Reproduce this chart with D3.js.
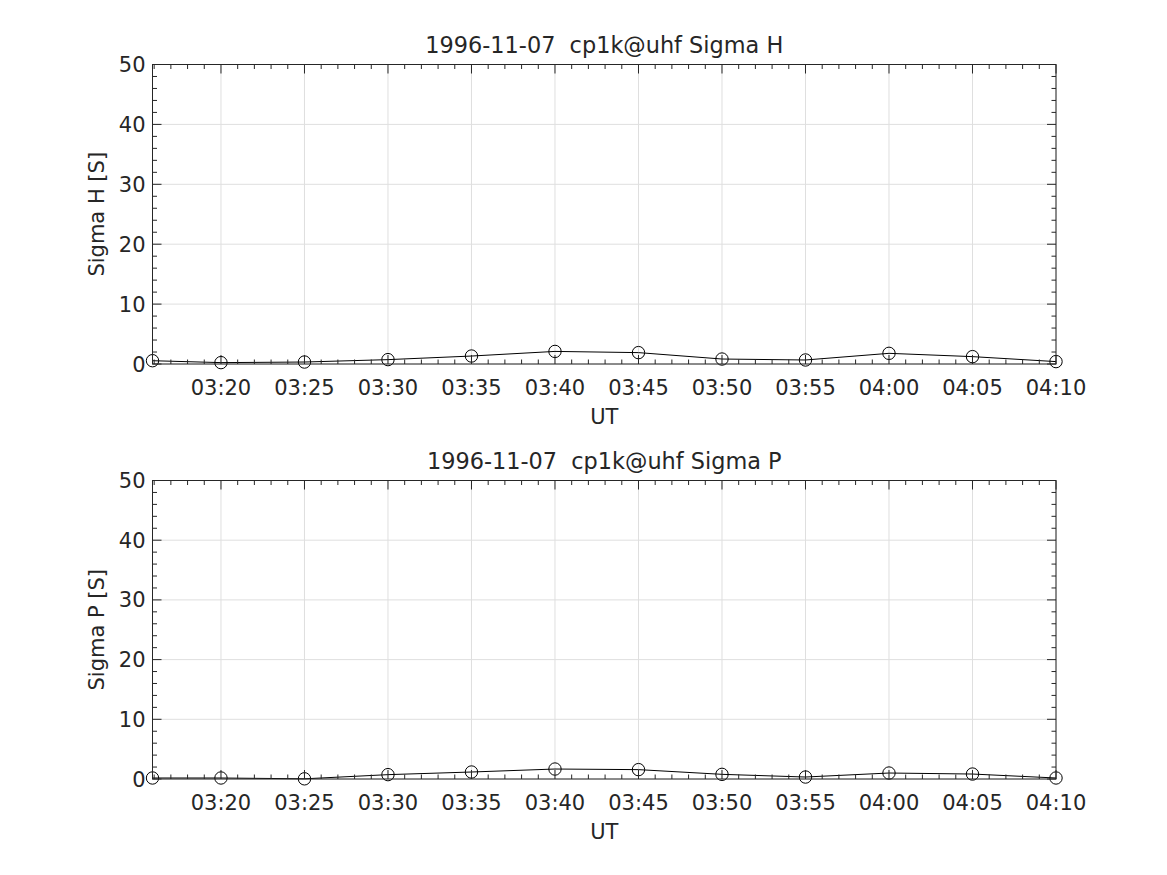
<!DOCTYPE html>
<html><head><meta charset="utf-8">
<script src="https://cdn.jsdelivr.net/npm/d3@7"></script>
<style>body{margin:0;background:#fff}svg{display:block}text{font-family:"DejaVu Sans",sans-serif;fill:#262626;white-space:pre}</style>
</head><body>
<script>
const times = ["03:15:54","03:20:00","03:25:00","03:30:00","03:35:00","03:40:00","03:45:00","03:50:00","03:55:00","04:00:00","04:05:00","04:10:00"];
const sigmaH = [0.55,0.23,0.33,0.73,1.33,2.1,1.9,0.83,0.67,1.78,1.23,0.4];
const sigmaP = [0.17,0.17,0.03,0.73,1.17,1.67,1.57,0.78,0.33,1.0,0.83,0.17];
const titles = ["1996-11-07  cp1k@uhf Sigma H","1996-11-07  cp1k@uhf Sigma P"];
const yLabels = ["Sigma H [S]","Sigma P [S]"];
const xLabel = "UT";
const yTicks = [0,10,20,30,40,50];
const xStart = "03:15:54", xEnd = "04:10:00";

const W=1167,H=875;
const parse = s => { const [h,m,sec]=s.split(":").map(Number); return new Date(Date.UTC(1996,10,7,h,m,sec)); };
const svg = d3.select("body").append("svg").attr("width",W).attr("height",H);
const left=152.5,right=1056;
const panels=[{top:64.5,bottom:364,vals:sigmaH},{top:480.5,bottom:779,vals:sigmaP}];
const fmt = d3.utcFormat("%H:%M");
const axisCol="#262626", gridCol="#dfdfdf";

panels.forEach((p,i)=>{
  const x=d3.scaleUtc().domain([parse(xStart),parse(xEnd)]).range([left,right]);
  const y=d3.scaleLinear().domain([0,50]).range([p.bottom,p.top]);
  const g=svg.append("g");
  const majX=x.ticks(d3.utcMinute.every(5));
  const minX=x.ticks(d3.utcMinute.every(1));
  const minY=d3.range(0,51,2);
  g.selectAll(".gx").data(majX).join("line").attr("x1",d=>x(d)).attr("x2",d=>x(d)).attr("y1",p.top).attr("y2",p.bottom).attr("stroke",gridCol).attr("stroke-width",1);
  g.selectAll(".gy").data(yTicks).join("line").attr("y1",d=>y(d)).attr("y2",d=>y(d)).attr("x1",left).attr("x2",right).attr("stroke",gridCol).attr("stroke-width",1);
  const data=times.map((t,k)=>({t:parse(t),v:p.vals[k]}));
  g.append("path").datum(data).attr("fill","none").attr("stroke","#000").attr("stroke-width",1)
    .attr("d",d3.line().x(d=>x(d.t)).y(d=>y(d.v)));
  g.selectAll(".pt").data(data).join("circle").attr("cx",d=>x(d.t)).attr("cy",d=>y(d.v)).attr("r",6.2)
    .attr("fill","none").attr("stroke","#000").attr("stroke-width",1);
  const tk=(x1,y1,x2,y2)=>g.append("line").attr("x1",x1).attr("y1",y1).attr("x2",x2).attr("y2",y2).attr("stroke",axisCol).attr("stroke-width",1);
  minX.forEach(d=>{const L=majX.some(m=>+m===+d)?9:4.5; tk(x(d),p.bottom,x(d),p.bottom-L); tk(x(d),p.top,x(d),p.top+L);});
  minY.forEach(d=>{const L=d%10===0?9:4.5; tk(left,y(d),left+L,y(d)); tk(right,y(d),right-L,y(d));});
  g.append("rect").attr("x",left).attr("y",p.top).attr("width",right-left).attr("height",p.bottom-p.top).attr("fill","none").attr("stroke",axisCol).attr("stroke-width",1);
  g.selectAll(".xl").data(majX).join("text").attr("x",d=>x(d)).attr("y",p.bottom+31).attr("text-anchor","middle").attr("font-size",21).text(d=>fmt(d));
  g.selectAll(".yl").data(yTicks).join("text").attr("x",left-7).attr("y",d=>y(d)+7.5).attr("text-anchor","end").attr("font-size",21).text(d=>d);
  g.append("text").attr("x",(left+right)/2).attr("y",p.bottom+60).attr("text-anchor","middle").attr("font-size",21).text(xLabel);
  g.append("text").attr("transform",`translate(104,${(p.top+p.bottom)/2}) rotate(-90)`).attr("text-anchor","middle").attr("font-size",21).text(yLabels[i]);
  g.append("text").attr("x",(left+right)/2).attr("y",p.top-12).attr("text-anchor","middle").attr("font-size",22.4).attr("xml:space","preserve").text(titles[i]);
});
</script>
</body></html>
